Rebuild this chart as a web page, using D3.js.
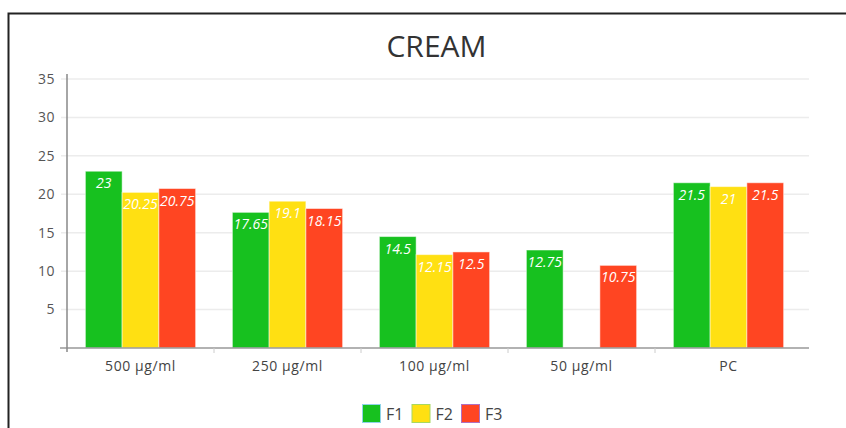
<!DOCTYPE html>
<html>
<head>
<meta charset="utf-8">
<script src="https://cdn.jsdelivr.net/npm/d3@7"></script>
<style>
  body { margin: 0; background: #fff; }
  svg { display: block; font-family: "Open Sans", sans-serif; }
</style>
</head>
<body>
<svg id="chart" width="846" height="428"></svg>
<script>
const categories = ['500 µg/ml', '250 µg/ml', '100 µg/ml', '50 µg/ml', 'PC']
const seriesNames = ['F1', 'F2', 'F3']
const f1 = [23, 17.65, 14.5, 12.75, 21.5]
const f2 = [20.25, 19.1, 12.15, 0, 21]
const f3 = [20.75, 18.15, 12.5, 10.75, 21.5]
const yTicks = [5, 10, 15, 20, 25, 30, 35]

const colors = ['#17c11f', '#ffe012', '#ff4522']
const legendStroke = ['#8fd3e8', '#a8d860', '#b070c0']

const margin = { top: 79, right: 44, bottom: 80, left: 67 }
const width = 846 - margin.left - margin.right
const height = 428 - margin.top - margin.bottom

const svg = d3.select('#chart')

// frame
svg.append('rect')
    .attr('x', 8.5).attr('y', 13.5)
    .attr('width', 900).attr('height', 500)
    .attr('fill', 'none')
    .attr('stroke', '#222')
    .attr('stroke-width', 2)

svg.append('text')
    .attr('x', margin.left + width / 2 + 2)
    .attr('y', 57)
    .attr('text-anchor', 'middle')
    .style('font-size', '30px')
    .attr('fill', '#333')
    .text('CREAM')

const g = svg.append('g').attr('transform', `translate(${margin.left},${margin.top})`)

const x = d3.scaleBand().domain(categories).range([0, width])
const x1 = d3.scaleBand().domain(seriesNames).range([0, x.bandwidth()]).paddingOuter(0.5).paddingInner(0)
const y = d3.scaleLinear().domain([0, 35]).range([height, 0])

// gridlines
g.append('g')
    .selectAll('line')
    .data(yTicks)
    .join('line')
    .attr('x1', -6).attr('x2', width + 7)
    .attr('y1', d => y(d)).attr('y2', d => y(d))
    .attr('stroke', '#ececec')
    .attr('stroke-width', 1.5)

// y axis labels
g.append('g')
    .selectAll('text')
    .data(yTicks)
    .join('text')
    .attr('x', -12)
    .attr('y', d => y(d))
    .attr('dy', '0.35em')
    .attr('text-anchor', 'end')
    .style('font-size', '14px')
    .style('letter-spacing', '0.5px')
    .attr('fill', '#555')
    .text(d => d)

const table = categories.map((c, i) => ({
    cat: c,
    vals: [f1[i], f2[i], f3[i]].map((v, j) => ({ cat: c, name: seriesNames[j], value: v, color: colors[j] }))
}))

const groups = g.selectAll('g.grp')
    .data(table)
    .join('g')
    .attr('class', 'grp')
    .attr('transform', d => `translate(${x(d.cat)},0)`)

groups.selectAll('rect')
    .data(d => d.vals)
    .join('rect')
    .attr('x', d => x1(d.name))
    .attr('y', d => y(d.value))
    .attr('width', x1.bandwidth())
    .attr('height', d => Math.max(0, height - y(d.value)))
    .attr('fill', d => d.color)
    .attr('stroke', d => d.value > 0 ? 'rgba(255,255,255,0.5)' : d.color)
    .attr('stroke-width', 1)

groups.selectAll('text')
    .data(d => d.vals.filter(v => v.value > 0))
    .join('text')
    .attr('x', d => x1(d.name) + x1.bandwidth() / 2)
    .attr('y', d => y(d.value) + 17)
    .attr('text-anchor', 'middle')
    .style('font-size', '14px')
    .style('font-style', 'italic')
    .attr('fill', '#fff')
    .text(d => d.value)

// axes
g.append('line')
    .attr('x1', -7).attr('x2', width + 7)
    .attr('y1', height).attr('y2', height)
    .attr('stroke', '#999').attr('stroke-width', 1.5)

g.append('line')
    .attr('x1', 0).attr('x2', 0)
    .attr('y1', -5).attr('y2', height + 4)
    .attr('stroke', '#888').attr('stroke-width', 1.5)

g.append('g')
    .selectAll('line')
    .data(categories.slice(1))
    .join('line')
    .attr('x1', d => x(d)).attr('x2', d => x(d))
    .attr('y1', height).attr('y2', height + 5)
    .attr('stroke', '#ccc')

g.append('g')
    .selectAll('text')
    .data(categories)
    .join('text')
    .attr('x', d => x(d) + x.bandwidth() / 2)
    .attr('y', height + 23)
    .attr('text-anchor', 'middle')
    .style('font-size', '14px')
    .style('letter-spacing', '0.6px')
    .attr('fill', '#444')
    .text(d => d)

// legend
const legend = svg.append('g').attr('transform', 'translate(362,404)')
const item = legend.selectAll('g')
    .data(seriesNames)
    .join('g')
    .attr('transform', (d, i) => `translate(${i * 49.5},0)`)

item.append('rect')
    .attr('x', 0.5).attr('y', 0.5)
    .attr('width', 18).attr('height', 18)
    .attr('fill', (d, i) => colors[i])
    .attr('stroke', (d, i) => legendStroke[i])

item.append('text')
    .attr('x', 24)
    .attr('y', 10)
    .attr('dy', '0.35em')
    .style('font-size', '16px')
    .attr('fill', '#444')
    .text(d => d)
</script>
</body>
</html>
